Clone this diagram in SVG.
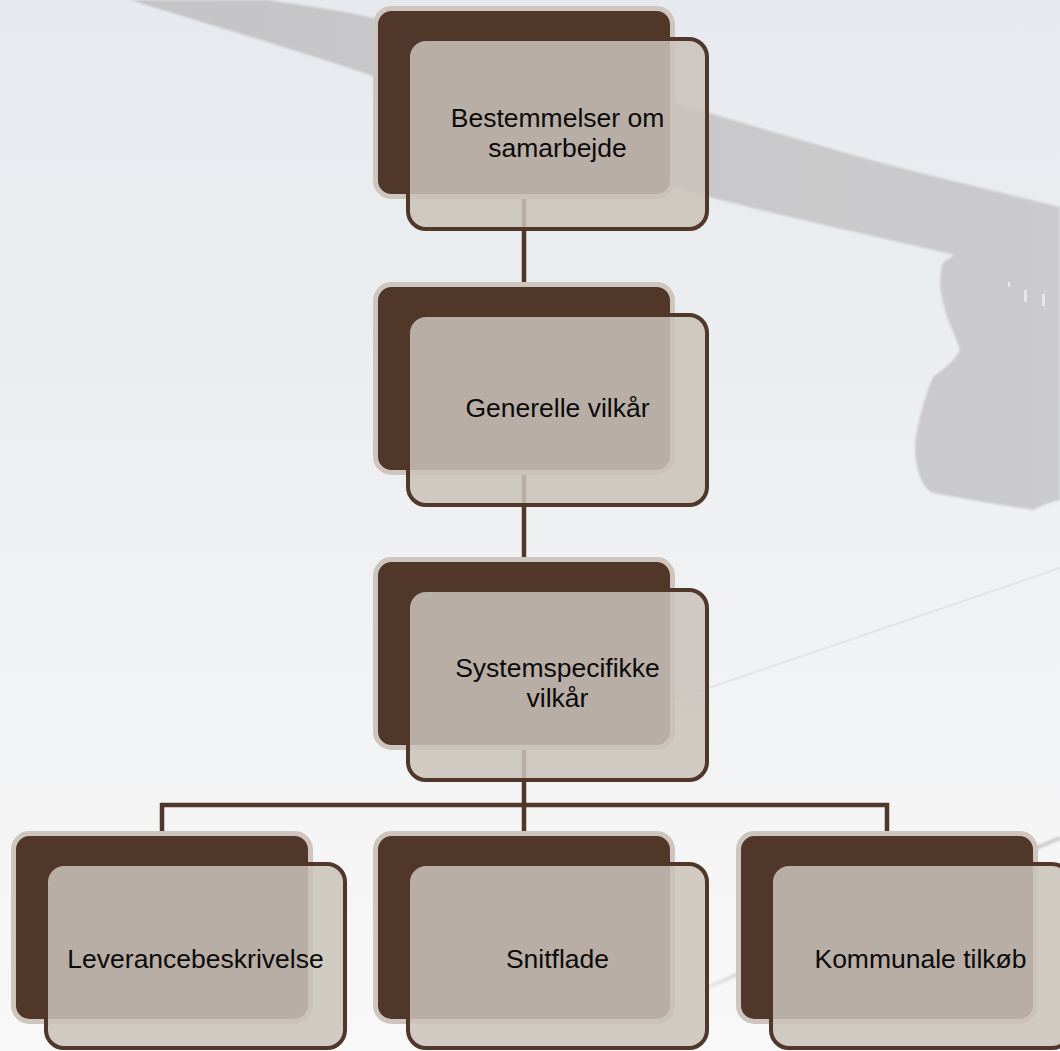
<svg xmlns="http://www.w3.org/2000/svg" width="1060" height="1051" viewBox="0 0 1060 1051">
  <defs>
    <linearGradient id="bg" x1="0" y1="0" x2="0" y2="1">
      <stop offset="0" stop-color="#e6eaee"/>
      <stop offset="0.5" stop-color="#eef0f2"/>
      <stop offset="1" stop-color="#f9f8f8"/>
    </linearGradient>
    <linearGradient id="wing" x1="0" y1="0" x2="1" y2="0">
      <stop offset="0" stop-color="#c5c5c8"/>
      <stop offset="1" stop-color="#cbcbcd"/>
    </linearGradient>
    <linearGradient id="streak" x1="0" y1="0" x2="1" y2="0">
      <stop offset="0" stop-color="#d4d4d6" stop-opacity="0"/>
      <stop offset="0.2" stop-color="#cfcfd1" stop-opacity="0.9"/>
      <stop offset="1" stop-color="#c8c8ca" stop-opacity="0.9"/>
    </linearGradient>
    <filter id="soft" x="-5%" y="-5%" width="110%" height="110%">
      <feGaussianBlur stdDeviation="0.8"/>
    </filter>
    <style>
      .back { fill: #50372a; stroke: #cec6be; stroke-width: 5; }
      .front { fill: #cbc3ba; fill-opacity: 0.86; stroke: #50372a; stroke-width: 4; }
      .conn { fill: none; stroke: #50372a; stroke-width: 4.5; stroke-linejoin: miter; }
      .label { font-family: "Liberation Sans", Arial, sans-serif; font-size: 26.5px; fill: #0a0a0a; text-anchor: middle; }
    </style>
  </defs>

  <!-- background scene -->
  <g id="background">
    <rect x="0" y="0" width="1060" height="1051" fill="url(#bg)"/>
    <path filter="url(#soft)" fill="url(#wing)" d="M268,0 C300,5 340,10 373,18 C430,32 600,80 709,113 C760,128 810,143 860,157 C930,176 1000,192 1060,207 L1060,500 C1040,505 1035,510 1033,510 C1000,505 960,498 933,493 C922,488 916,470 915,450 C915,430 925,395 933,377 C945,368 955,360 960,350 C955,335 950,325 947,317 C942,300 940,290 940,280 C941,270 942,265 943,263 C947,259 951,257 955,255 C920,247 890,240 860,233 C810,222 760,210 709,197 C600,168 480,115 373,76 C290,48 200,22 130,0 Z"/>
    <g fill="#eeeeee" opacity="0.8">
      <rect x="1008" y="282" width="2" height="5"/>
      <rect x="1024" y="290" width="3" height="12"/>
      <rect x="1042" y="294" width="3" height="12"/>
    </g>
    <line x1="600" y1="725" x2="1060" y2="568" stroke="#e4e4e5" stroke-width="2"/>
    <path d="M670,1003 L1060,838" stroke="url(#streak)" stroke-width="4" fill="none" filter="url(#soft)"/>
  </g>

  <!-- connectors -->
  <g id="connectors">
    <path class="conn" d="M524,190 V290"/>
    <path class="conn" d="M524,465 V565"/>
    <path class="conn" d="M524,740 V840"/>
    <path class="conn" d="M162,840 V805 H887 V840"/>
  </g>

  <!-- nodes -->
  <g id="node-bestemmelser">
    <rect class="back" x="375.5" y="8.5" width="297" height="188" rx="16"/>
    <rect class="front" x="408" y="39" width="299" height="190" rx="18"/>
    <text class="label" x="557.5" y="126.5">Bestemmelser om</text>
    <text class="label" x="557.5" y="156.5">samarbejde</text>
  </g>

  <g id="node-generelle">
    <rect class="back" x="375.5" y="284.5" width="297" height="188" rx="16"/>
    <rect class="front" x="408" y="315" width="299" height="190" rx="18"/>
    <text class="label" x="557.5" y="417">Generelle vilkår</text>
  </g>

  <g id="node-systemspecifikke">
    <rect class="back" x="375.5" y="559.5" width="297" height="188" rx="16"/>
    <rect class="front" x="408" y="590" width="299" height="190" rx="18"/>
    <text class="label" x="557.5" y="676.5">Systemspecifikke</text>
    <text class="label" x="557.5" y="706.5">vilkår</text>
  </g>

  <g id="node-leverancebeskrivelse">
    <rect class="back" x="13.5" y="833.5" width="297" height="188" rx="16"/>
    <rect class="front" x="46" y="864" width="299" height="184" rx="18"/>
    <text class="label" x="195.5" y="968">Leverancebeskrivelse</text>
  </g>

  <g id="node-snitflade">
    <rect class="back" x="375.5" y="833.5" width="297" height="188" rx="16"/>
    <rect class="front" x="408" y="864" width="299" height="184" rx="18"/>
    <text class="label" x="557.5" y="968">Snitflade</text>
  </g>

  <g id="node-kommunale">
    <rect class="back" x="738.5" y="833.5" width="297" height="188" rx="16"/>
    <rect class="front" x="771" y="864" width="299" height="184" rx="18"/>
    <text class="label" x="920.5" y="968">Kommunale tilkøb</text>
  </g>
</svg>
